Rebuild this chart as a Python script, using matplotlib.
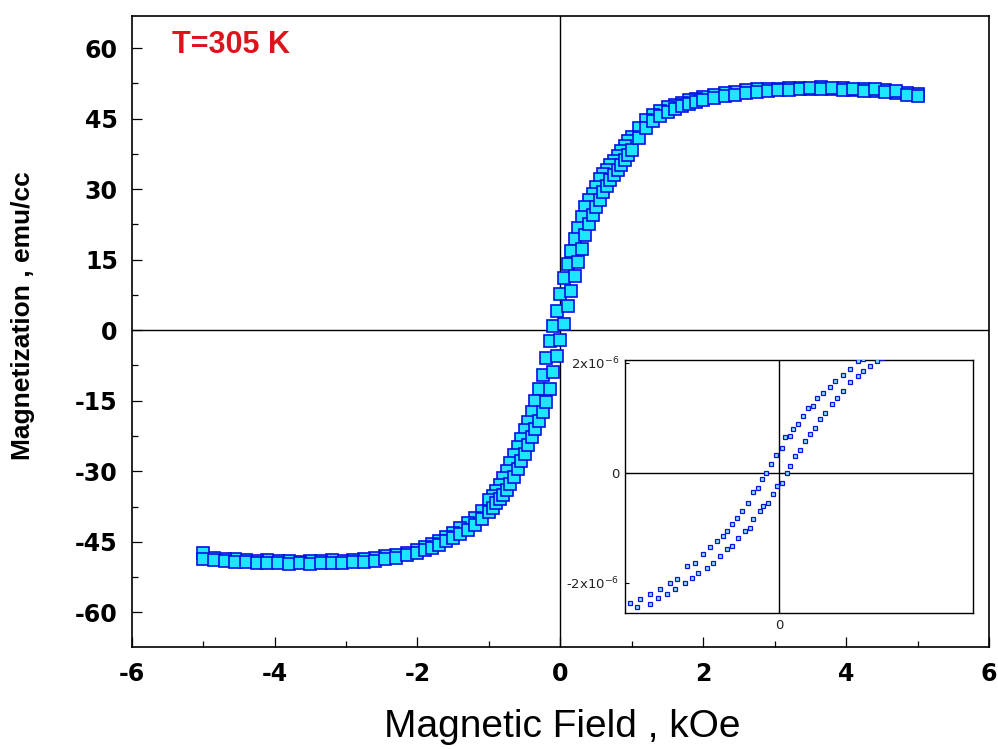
import matplotlib
matplotlib.use("Agg")
import matplotlib.pyplot as plt

plt.rcParams["axes.unicode_minus"] = False

# M-H loop at 305 K, field in kOe, magnetization in emu/cc
field = [5.0, 4.85, 4.7, 4.55, 4.4, 4.25, 4.1, 3.95, 3.8, 3.65, 3.5, 3.35, 3.2, 3.05, 2.9, 2.75, 2.6, 2.45, 2.3, 2.15,
         2.0, 1.9, 1.8, 1.7, 1.6, 1.5, 1.4, 1.3, 1.2, 1.1,
         1.0, 0.95, 0.9, 0.85, 0.8, 0.75, 0.7, 0.65, 0.6, 0.55, 0.5, 0.45, 0.4, 0.35, 0.3, 0.25, 0.2, 0.15, 0.1, 0.05, 0.0,
         -0.05, -0.1, -0.15, -0.2, -0.25, -0.3, -0.35, -0.4, -0.45, -0.5, -0.55, -0.6, -0.65, -0.7, -0.75, -0.8, -0.85,
         -0.9, -0.95, -1.0,
         -1.1, -1.2, -1.3, -1.4, -1.5, -1.6, -1.7, -1.8, -1.9, -2.0,
         -2.15, -2.3, -2.45, -2.6, -2.75, -2.9, -3.05, -3.2, -3.35, -3.5, -3.65, -3.8, -3.95, -4.1, -4.25, -4.4, -4.55,
         -4.7, -4.85, -5.0]

# descending branch (+5 -> -5 kOe)
m_down = [50.2, 50.5, 50.4, 51.1, 50.8, 51.4, 51.0, 51.6, 51.2, 51.8, 51.3, 51.6, 51.5, 51.4, 51.3, 51.2, 51.0, 50.7, 50.4, 50.0,
          49.6, 49.2, 48.9, 48.4, 47.9, 47.4, 46.7, 45.8, 44.6, 42.9,
          41.1, 40.2, 39.2, 38.1, 37.1, 36.0, 35.1, 34.1, 33.2, 32.1, 30.5, 29.0, 27.6, 26.3, 24.1, 21.8, 19.4, 16.8, 14.1, 11.0, 7.6,
          4.1, 1.0, -2.4, -6.0, -9.6, -12.6, -15.0, -17.5, -19.5, -21.3, -23.1, -24.8, -26.5, -28.2, -29.9, -31.5, -33.0,
          -34.1, -35.2, -36.2,
          -38.5, -40.0, -41.0, -42.1, -43.1, -44.0, -44.8, -45.5, -46.2, -46.7,
          -47.3, -47.7, -48.0, -48.5, -48.6, -48.8, -49.0, -48.9, -49.1, -49.0, -49.2, -49.0, -49.1, -48.9, -49.0, -48.8, -48.7,
          -48.6, -48.5, -47.4]

# ascending branch (-5 -> +5 kOe), listed on the same field points
m_up = [49.8, 50.0, 50.8, 50.6, 51.2, 50.9, 51.3, 51.1, 51.5, 51.2, 51.5, 51.2, 51.0, 51.1, 50.8, 50.7, 50.4, 50.1, 49.8, 49.4,
        48.9, 48.5, 48.1, 47.6, 47.0, 46.4, 45.5, 44.4, 43.0, 40.9,
        38.3, 37.2, 36.2, 35.1, 34.1, 33.0, 31.9, 30.7, 29.4, 27.7, 26.1, 24.4, 22.6, 20.3, 17.3, 14.6, 11.6, 8.4, 5.1, 1.4, -2.0,
        -5.5, -8.8, -12.4, -15.2, -17.4, -19.4, -21.1, -22.8, -24.5, -26.3, -27.9, -29.6, -31.2, -32.6, -34.0, -35.0, -36.0,
        -36.8, -37.8, -38.7,
        -40.1, -41.5, -42.4, -43.3, -44.1, -44.8, -45.6, -46.3, -46.8, -47.3,
        -47.9, -48.4, -48.6, -49.0, -49.3, -49.4, -49.5, -49.6, -49.5, -49.8, -49.6, -49.7, -49.6, -49.6, -49.5, -49.4, -49.3,
        -49.1, -48.9, -48.6]

# low-field detail of the loop (field in Oe, moment in 1e-6 emu)
inset_h_down = [-149, -139, -129, -119, -109, -102, -92, -84, -76, -69, -62, -56, -52, -47, -42, -37, -31, -26, -21, -17,
                -13, -8, -3, 3, 6, 11, 14, 19, 24, 29, 34, 38, 44, 51, 56, 64, 71, 79, 84]
inset_m_down = [-2.36, -2.30, -2.21, -2.12, -2.00, -1.94, -1.70, -1.64, -1.48, -1.36, -1.24, -1.15, -1.06, -0.94, -0.82,
                -0.70, -0.55, -0.36, -0.27, -0.12, 0.00, 0.15, 0.32, 0.45, 0.64, 0.67, 0.79, 0.88, 1.03, 1.18, 1.21,
                1.35, 1.45, 1.55, 1.67, 1.77, 1.88, 2.03, 2.06]
inset_h_up = [-142, -129, -121, -112, -104, -94, -87, -81, -72, -66, -59, -52, -47, -41, -34, -29, -26, -19, -16, -11,
              -6, -2, 3, 8, 11, 16, 21, 26, 31, 36, 41, 46, 53, 58, 64, 71, 79, 84, 91, 98, 103]
inset_m_up = [-2.45, -2.39, -2.27, -2.21, -2.12, -2.00, -1.91, -1.82, -1.73, -1.64, -1.52, -1.39, -1.33, -1.18, -1.06,
              -1.00, -0.85, -0.70, -0.61, -0.55, -0.39, -0.24, -0.18, 0.00, 0.12, 0.30, 0.42, 0.58, 0.70, 0.82, 0.97,
              1.09, 1.24, 1.36, 1.48, 1.64, 1.76, 1.85, 1.94, 2.03, 2.09]

x_ticks = [-6, -4, -2, 0, 2, 4, 6]
y_ticks = [-60, -45, -30, -15, 0, 15, 30, 45, 60]

TICK_FONT = dict(family="DejaVu Sans", weight="bold", size=17)

fig = plt.figure(figsize=(9.98, 7.49), dpi=100)
ax = fig.add_axes([0.132, 0.136, 0.859, 0.8425])

ax.axhline(0, color="black", lw=1.0, zorder=1)
ax.axvline(0, color="black", lw=1.0, zorder=1)

marker_style = dict(ls="none", marker="s", ms=8.0, mfc="#1ee6ff", mec="#0510e0", mew=1.2, zorder=3)
ax.plot(field, m_down, **marker_style)
ax.plot(field[::-1], m_up[::-1], **marker_style)

ax.set_xlim(-6, 6)
ax.set_ylim(-67.4, 66.8)
ax.set_xticks(x_ticks)
ax.set_yticks(y_ticks)
ax.set_xticks([-5, -3, -1, 1, 3, 5], minor=True)
ax.set_yticks([-52.5, -37.5, -22.5, -7.5, 7.5, 22.5, 37.5, 52.5], minor=True)
ax.tick_params(which="both", direction="in", top=False, right=False, width=0.9)
ax.tick_params(which="major", length=7)
ax.tick_params(which="minor", length=4)
ax.tick_params(axis="x", pad=11)
ax.tick_params(axis="y", pad=10)
for lab in ax.get_xticklabels() + ax.get_yticklabels():
    lab.set_fontproperties(TICK_FONT)
for sp in ax.spines.values():
    sp.set_linewidth(1.2)

fig.text(0.2315, 0.94, "T=305 K", ha="center", va="center", color="#dc141c",
         family="Liberation Sans", weight="bold", size=22)
fig.text(0.563, 0.016, "Magnetic Field , kOe", ha="center", va="baseline",
         family="Liberation Sans", size=28)
fig.text(0.023, 0.579, "Magnetization , emu/cc", ha="center", va="center", rotation=90,
         family="Liberation Sans", weight="bold", size=19)

# inset: low-field region
ins = fig.add_axes([0.626, 0.1816, 0.349, 0.338])
ins.axhline(0, color="black", lw=1.0, zorder=1)
ins.axvline(0, color="black", lw=1.0, zorder=1)
small_style = dict(ls="none", marker="s", ms=3.4, mfc="#7fe8ff", mec="#1010d8", mew=0.9, zorder=3)
ins.plot(inset_h_down, inset_m_down, **small_style)
ins.plot(inset_h_up, inset_m_up, **small_style)
ins.set_xlim(-154, 194)
ins.set_ylim(-2.55, 2.05)
ins.set_xticks([0])
ins.set_xticklabels(["0"])
ins.set_yticks([-2, 0, 2])
ins.set_yticklabels([r"-2x10$^{-6}$", "0", r"2x10$^{-6}$"])
ins.tick_params(direction="in", length=3, width=0.8, top=False, right=False, pad=4,
                labelsize=9.5, labelcolor="#222222")
for sp in ins.spines.values():
    sp.set_linewidth(1.0)

fig.savefig("out.png", dpi=100)
